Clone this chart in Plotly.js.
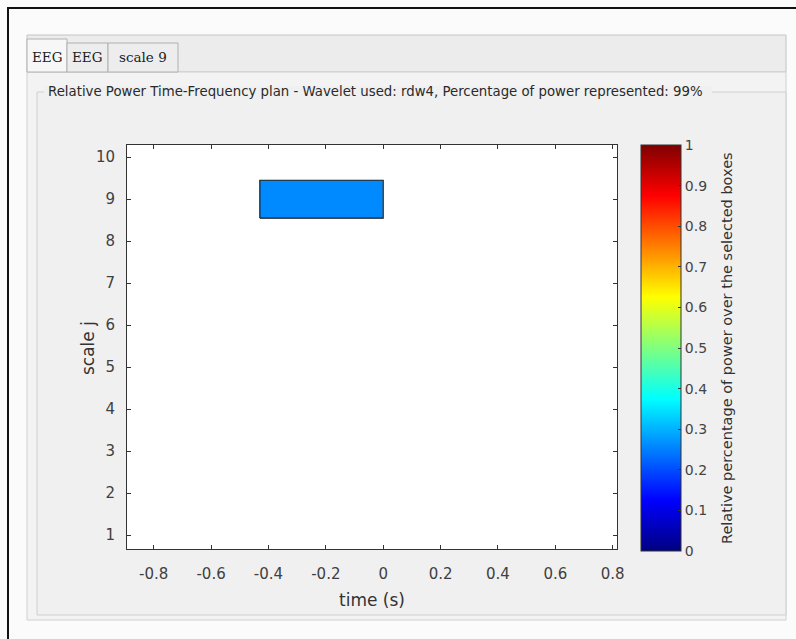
<!DOCTYPE html>
<html>
<head>
<meta charset="utf-8">
<script src="https://cdn.plot.ly/plotly-3.0.1.min.js"></script>
<style>
html,body{margin:0;padding:0;background:#fbfbfb;}
#chart{width:796px;height:639px;}
</style>
</head>
<body>
<div id="chart"></div>
<script>
// ---- data ----
var boxTimeStart = [-0.43];
var boxTimeEnd = [0.0];
var boxScale = [9];
var boxPower = [0.26];
var xTickVals = [-0.8, -0.6, -0.4, -0.2, 0, 0.2, 0.4, 0.6, 0.8];
var xTickText = ['-0.8', '-0.6', '-0.4', '-0.2', '0', '0.2', '0.4', '0.6', '0.8'];
var yTickVals = [1, 2, 3, 4, 5, 6, 7, 8, 9, 10];
var cbTickVals = [0, 0.1, 0.2, 0.3, 0.4, 0.5, 0.6, 0.7, 0.8, 0.9, 1];
var cbTickText = ['0', '0.1', '0.2', '0.3', '0.4', '0.5', '0.6', '0.7', '0.8', '0.9', '1'];
var tabLabels = ['EEG', 'EEG', 'scale 9'];
var panelTitle = 'Relative Power Time-Frequency plan - Wavelet used: rdw4, Percentage of power represented: 99%';
var xTitle = 'time (s)';
var yTitle = 'scale j';
var cbTitle = 'Relative percentage of power over the selected boxes';

// ---- geometry (pixels) ----
var W = 796, H = 639;
var L = 127, R = 617, T = 145, B = 549;
function px(x) { return (x - L) / (R - L); }
function py(y) { return (B - y) / (B - T); }

var jet = [
  [0, 'rgb(0,0,128)'], [0.125, 'rgb(0,0,255)'], [0.375, 'rgb(0,255,255)'],
  [0.625, 'rgb(255,255,0)'], [0.875, 'rgb(255,0,0)'], [1, 'rgb(128,0,0)']
];
var SANS = 'DejaVu Sans, Arial, sans-serif';

var half = 0.45;
var traces = [];
for (var i = 0; i < boxScale.length; i++) {
  traces.push({
    type: 'heatmap',
    x: [boxTimeStart[i], boxTimeEnd[i]],
    y: [boxScale[i] - half, boxScale[i] + half],
    z: [[boxPower[i]]],
    zmin: 0, zmax: 1,
    colorscale: jet,
    showscale: i === 0,
    hoverinfo: 'skip',
    colorbar: {
      x: px(641), xanchor: 'left', xref: 'paper',
      y: py(551), yanchor: 'bottom', yref: 'paper',
      len: 551 - 145, lenmode: 'pixels',
      thickness: 40, thicknessmode: 'pixels',
      outlinewidth: 1, outlinecolor: '#333',
      tickvals: cbTickVals, ticktext: cbTickText,
      ticks: 'inside', ticklen: 3, tickcolor: '#333',
      tickfont: {family: SANS, size: 14, color: '#444'},
      ticklabelpad: 8,
      xpad: 0, ypad: 0
    }
  });
  traces.push({
    type: 'scatter', mode: 'lines',
    x: [boxTimeStart[i], boxTimeEnd[i], boxTimeEnd[i], boxTimeStart[i], boxTimeStart[i]],
    y: [boxScale[i] - half, boxScale[i] - half, boxScale[i] + half, boxScale[i] + half, boxScale[i] - half],
    line: {color: '#1a1a1a', width: 1.2},
    hoverinfo: 'skip', showlegend: false
  });
}

var shapes = [];
function rect(x0, y0, x1, y1, fill, line, lw) {
  shapes.push({type: 'rect', xref: 'paper', yref: 'paper', layer: 'below',
    x0: px(x0), x1: px(x1), y0: py(y1), y1: py(y0),
    fillcolor: fill, line: {color: line || 'rgba(0,0,0,0)', width: lw || 0}});
}
function hline(x0, x1, y, color, w) {
  shapes.push({type: 'line', xref: 'paper', yref: 'paper', layer: 'below',
    x0: px(x0), x1: px(x1), y0: py(y), y1: py(y), line: {color: color, width: w}});
}
function vline(x, y0, y1, color, w) {
  shapes.push({type: 'line', xref: 'paper', yref: 'paper', layer: 'below',
    x0: px(x), x1: px(x), y0: py(y0), y1: py(y1), line: {color: color, width: w}});
}
// tab bar
rect(27, 35, 786, 72, '#ececec', '#c4c4c4', 1);
// content panel
rect(27, 72, 786, 620, '#f3f3f3', '#d0d0d0', 1);
// group box
rect(37, 92, 786, 615, '#f0f0f0', '#cfcfcf', 1);
// cover group box line behind title
rect(44, 86, 712, 98, '#f0f0f0');
// tabs
var tabX = [27, 67, 108, 178];
for (var t = 0; t < tabLabels.length; t++) {
  var tabTop = (t === 0) ? 39 : 43;
  rect(tabX[t], tabTop, tabX[t + 1], 72, t === 0 ? '#f7f7f7' : '#ededed', '#b0b0b0', 1);
}
// plot area white
rect(L, T, R, B, '#ffffff');
// outer black frame
hline(7, 796, 8, '#111', 2);
vline(8, 7, 639, '#111', 2);

var annotations = [];
for (var t2 = 0; t2 < tabLabels.length; t2++) {
  annotations.push({xref: 'paper', yref: 'paper', showarrow: false,
    x: px((tabX[t2] + tabX[t2 + 1]) / 2), y: py(57), xanchor: 'center', yanchor: 'middle',
    text: tabLabels[t2], font: {family: 'DejaVu Serif, serif', size: 13.5, color: '#222'}});
}
annotations.push({xref: 'paper', yref: 'paper', showarrow: false,
  x: px(46), y: py(91), xanchor: 'left', yanchor: 'middle',
  text: panelTitle, font: {family: SANS, size: 13.3, color: '#2a2a2a'}});
annotations.push({xref: 'paper', yref: 'paper', showarrow: false,
  x: px(88), y: py(348), xanchor: 'center', yanchor: 'middle', textangle: -90,
  text: yTitle, font: {family: SANS, size: 17, color: '#333'}});
annotations.push({xref: 'paper', yref: 'paper', showarrow: false,
  x: px(727), y: py(348), xanchor: 'center', yanchor: 'middle', textangle: -90,
  text: cbTitle, font: {family: SANS, size: 14.5, color: '#333'}});

var axFont = {family: SANS, size: 15, color: '#404040'};
var layout = {
  width: W, height: H,
  margin: {l: L, r: W - R, t: T, b: H - B, pad: 0},
  paper_bgcolor: '#fbfbfb',
  plot_bgcolor: '#ffffff',
  showlegend: false,
  xaxis: {
    range: [-0.893, 0.815], tickvals: xTickVals, ticktext: xTickText,
    ticks: 'inside', ticklen: 4, tickcolor: '#333', mirror: 'ticks',
    showline: true, linecolor: '#333', linewidth: 1, showgrid: false, zeroline: false,
    tickfont: axFont, ticklabelstandoff: 11,
    title: {text: xTitle, standoff: 12, font: {family: SANS, size: 17, color: '#333'}}
  },
  yaxis: {
    range: [0.667, 10.29], tickvals: yTickVals,
    ticks: 'inside', ticklen: 4, tickcolor: '#333', mirror: 'ticks',
    showline: true, linecolor: '#333', linewidth: 1, showgrid: false, zeroline: false,
    tickfont: axFont, ticklabelstandoff: 8
  },
  shapes: shapes,
  annotations: annotations
};

Plotly.newPlot('chart', traces, layout, {displayModeBar: false, staticPlot: true});
</script>
</body>
</html>
